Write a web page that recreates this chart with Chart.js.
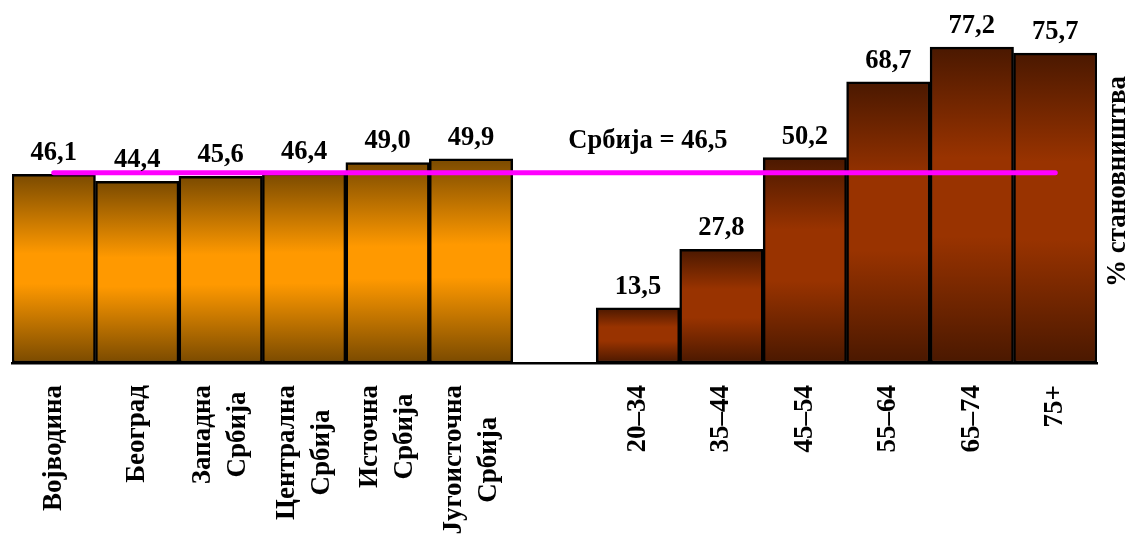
<!DOCTYPE html>
<html>
<head>
<meta charset="utf-8">
<script src="https://cdn.jsdelivr.net/npm/chart.js@4/dist/chart.umd.min.js"></script>
<style>
  html, body { margin: 0; padding: 0; background: #ffffff; }
  #wrap { width: 1130px; height: 535px; position: relative; }
</style>
</head>
<body>
<div id="wrap"><canvas id="chart"></canvas></div>
<script>
// Regions of Serbia
const regionLabels = [
  ['Војводина'],
  ['Београд'],
  ['Западна', 'Србија'],
  ['Централна', 'Србија'],
  ['Источна', 'Србија'],
  ['Југоисточна', 'Србија']
];
const regionValues = [46.1, 44.4, 45.6, 46.4, 49.0, 49.9];

// Age groups
const ageLabels = [['20–34'], ['35–44'], ['45–54'], ['55–64'], ['65–74'], ['75+']];
const ageValues = [13.5, 27.8, 50.2, 68.7, 77.2, 75.7];

// National average
const serbiaLabel = 'Србија';
const serbiaValue = 46.5;

const axisTitle = '% становништва';

// empty slot separating the two groups
const gapLabel = [''];
const labels = [...regionLabels, gapLabel, ...ageLabels];
const barValues = [...regionValues, null, ...ageValues];

const FONT = '"Liberation Serif", "Times New Roman", serif';
const fmt = v => v.toFixed(1).replace('.', ',');

const goldStops = ['#7a4a00', '#ff9900', '#ff9900', '#7a4a00'];
const brownStops = ['#4a1800', '#993300', '#993300', '#4a1800'];

function barGradient(ctx) {
  if (ctx.type !== 'data') return 'transparent';
  const chart = ctx.chart;
  const v = ctx.raw;
  if (v == null || !chart.chartArea) return 'transparent';
  const yScale = chart.scales.y;
  const top = yScale.getPixelForValue(v);
  const bottom = yScale.getPixelForValue(0);
  const isRegion = ctx.dataIndex < regionValues.length;
  const stops = isRegion ? goldStops : brownStops;
  const pos = isRegion ? [0, 0.42, 0.58, 1] : [0, 0.35, 0.6, 1];
  const g = chart.ctx.createLinearGradient(0, top, 0, bottom);
  stops.forEach((c, i) => g.addColorStop(pos[i], c));
  return g;
}

// Value labels, average caption, rotated category labels and axis title
const annotations = {
  id: 'annotations',
  afterDatasetsDraw(chart) {
    const c = chart.ctx;
    const xScale = chart.scales.x;
    const yScale = chart.scales.y;
    c.save();
    c.fillStyle = '#000';

    // values above bars
    c.font = 'bold 26.5px ' + FONT;
    c.textAlign = 'center';
    c.textBaseline = 'alphabetic';
    const meta = chart.getDatasetMeta(1);
    meta.data.forEach((bar, i) => {
      const v = barValues[i];
      if (v == null) return;
      c.fillText(fmt(v), bar.x, bar.y - 14);
    });

    // average caption
    const capX = xScale.getPixelForValue(regionValues.length + 1) + 10;
    const capY = yScale.getPixelForValue(serbiaValue) - 25;
    c.fillText(serbiaLabel + ' = ' + fmt(serbiaValue), capX, capY);

    // category labels, rotated, lines centred on each other
    c.font = 'bold 27px ' + FONT;
    const lineGap = 35;
    const yTop = chart.chartArea.bottom + 22;
    labels.forEach((lines, i) => {
      const x = xScale.getPixelForValue(i);
      const maxW = Math.max(...lines.map(t => c.measureText(t).width));
      c.save();
      c.translate(x, yTop);
      c.rotate(-Math.PI / 2);
      c.textAlign = 'center';
      c.textBaseline = 'middle';
      lines.forEach((t, k) => {
        c.fillText(t, -maxW / 2, (k - (lines.length - 1) / 2) * lineGap);
      });
      c.restore();
    });

    // axis title on the right
    c.font = 'bold 27px ' + FONT;
    c.save();
    c.translate(chart.chartArea.right + 21, (chart.chartArea.top + chart.chartArea.bottom) / 2);
    c.rotate(-Math.PI / 2);
    c.textAlign = 'center';
    c.textBaseline = 'middle';
    c.fillText(axisTitle, 0, 0);
    c.restore();

    c.restore();
  }
};

new Chart(document.getElementById('chart'), {
  data: {
    labels: labels,
    datasets: [
      {
        type: 'line',
        order: 0,
        data: [
          { x: labels[0], y: serbiaValue },
          { x: labels[labels.length - 1], y: serbiaValue }
        ],
        borderColor: '#ff00ff',
        borderWidth: 5,
        borderCapStyle: 'round',
        pointRadius: 0,
        fill: false
      },
      {
        type: 'bar',
        order: 1,
        data: barValues,
        backgroundColor: barGradient,
        borderColor: '#000000',
        borderWidth: 2.5,
        borderSkipped: false,
        barPercentage: 1,
        categoryPercentage: 1
      }
    ]
  },
  options: {
    responsive: true,
    maintainAspectRatio: false,
    animation: false,
    events: [],
    layout: { padding: { left: 12, right: 33, top: 0, bottom: 172 } },
    plugins: { legend: { display: false }, tooltip: { enabled: false } },
    scales: {
      x: {
        type: 'category',
        offset: true,
        ticks: { display: false },
        grid: { display: false, drawTicks: false },
        border: { display: true, color: '#000', width: 2.5 }
      },
      y: {
        display: false,
        min: 0,
        max: 88.7
      }
    }
  },
  plugins: [annotations]
});
</script>
</body>
</html>
